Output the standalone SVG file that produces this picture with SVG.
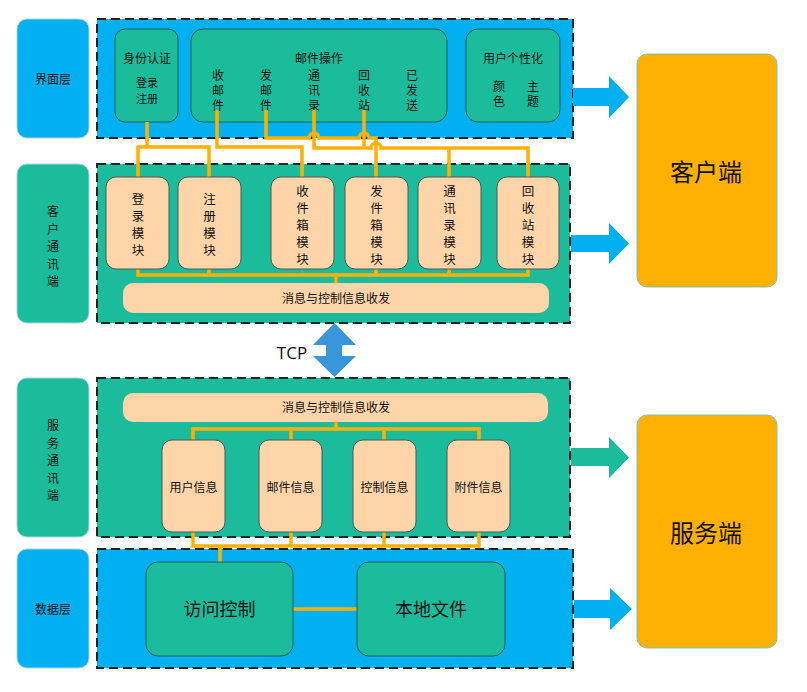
<svg xmlns="http://www.w3.org/2000/svg" width="807" height="692" viewBox="0 0 807 692">
<defs>
<style>
.t{font-family:"Liberation Sans","Noto Sans CJK SC",sans-serif;fill:#111;text-anchor:middle;dominant-baseline:central}
.lab{stroke:#a8d4dc;stroke-width:1}
.blue{fill:#00B0F0}
.teal{fill:#1ABC9C}
.dash{stroke:#222;stroke-width:2;stroke-dasharray:9 5}
.sub{fill:#1ABC9C;stroke:#1E5E5A;stroke-width:1}
.mod{fill:#FED4A8;stroke:#555;stroke-width:1}
.bar{fill:#FED4A8}
.ln{fill:none;stroke:#FFB000;stroke-width:3.5}
.big{fill:#FFB000;stroke:#7fc4b8;stroke-width:1}
</style>
</defs>
<rect width="807" height="692" fill="#fff"/>

<!-- left labels -->
<g id="label-ui"><rect class="blue lab" x="17" y="19" width="72" height="119" rx="10"/><text class="t" x="53" y="80" font-size="12">界面层</text></g>
<g id="label-client"><rect class="teal lab" x="17" y="164" width="72" height="159" rx="10"/>
<text class="t" x="53" y="212" font-size="12">客</text><text class="t" x="53" y="229.5" font-size="12">户</text><text class="t" x="53" y="247" font-size="12">通</text><text class="t" x="53" y="264.5" font-size="12">讯</text><text class="t" x="53" y="282" font-size="12">端</text></g>
<g id="label-server"><rect class="teal lab" x="17" y="378" width="72" height="159" rx="10"/>
<text class="t" x="53" y="426" font-size="12">服</text><text class="t" x="53" y="443.5" font-size="12">务</text><text class="t" x="53" y="461" font-size="12">通</text><text class="t" x="53" y="478.5" font-size="12">讯</text><text class="t" x="53" y="496" font-size="12">端</text></g>
<g id="label-data"><rect class="blue lab" x="17" y="549" width="72" height="119" rx="10"/><text class="t" x="53" y="610" font-size="12">数据层</text></g>

<!-- layer containers -->
<g id="layer-ui"><rect class="blue dash" x="97" y="19" width="476" height="119"/></g>
<g id="layer-client"><rect class="teal dash" x="97" y="164" width="473" height="159"/></g>
<g id="layer-server"><rect class="teal dash" x="97" y="378" width="473" height="159"/></g>
<g id="layer-data"><rect class="blue dash" x="97" y="549" width="476" height="119"/></g>

<!-- UI sub boxes -->
<g id="auth"><rect class="sub" x="115" y="29" width="63" height="93" rx="10"/>
<text class="t" x="147" y="59" font-size="12">身份认证</text>
<text class="t" x="147" y="83" font-size="11">登录</text>
<text class="t" x="147" y="99" font-size="11">注册</text></g>
<g id="mail-ops"><rect class="sub" x="191" y="29" width="256" height="93" rx="12"/>
<text class="t" x="319" y="59" font-size="12">邮件操作</text>
<text class="t" x="218" y="76" font-size="12">收</text><text class="t" x="218" y="91" font-size="12">邮</text><text class="t" x="218" y="106" font-size="12">件</text>
<text class="t" x="266" y="76" font-size="12">发</text><text class="t" x="266" y="91" font-size="12">邮</text><text class="t" x="266" y="106" font-size="12">件</text>
<text class="t" x="314" y="76" font-size="12">通</text><text class="t" x="314" y="91" font-size="12">讯</text><text class="t" x="314" y="106" font-size="12">录</text>
<text class="t" x="364" y="76" font-size="12">回</text><text class="t" x="364" y="91" font-size="12">收</text><text class="t" x="364" y="106" font-size="12">站</text>
<text class="t" x="412" y="76" font-size="12">已</text><text class="t" x="412" y="91" font-size="12">发</text><text class="t" x="412" y="106" font-size="12">送</text></g>
<g id="personalize"><rect class="sub" x="466" y="29" width="94" height="93" rx="12"/>
<text class="t" x="513" y="59" font-size="12">用户个性化</text>
<text class="t" x="499" y="87" font-size="12">颜</text><text class="t" x="499" y="102" font-size="12">色</text>
<text class="t" x="533" y="87" font-size="12">主</text><text class="t" x="533" y="102" font-size="12">题</text></g>

<!-- connectors -->
<g id="connectors">
<path class="ln" d="M147,122 V147 M138,177 V147 H209 V177"/>
<path class="ln" d="M217,110 V147 H302 V177"/>
<path class="ln" d="M266,110 V138 H309 a5,5 0 0 1 10,0 H359 a5,5 0 0 1 10,0 H376 V177"/>
<path class="ln" d="M314,110 V148 H371 a5,5 0 0 1 10,0 H528 V177 M449,148 V177"/>
<path class="ln" d="M364,110 V148"/>
<path d="M302,269 V274 H336" fill="none" stroke="#999" stroke-width="1"/>
<path class="ln" d="M138,269 V275 H528 V269 M209,269 V275 M376,269 V275 M449,269 V275 M336,275 V283"/>
<path class="ln" d="M336,422 V429 M193,440 V429 H479 V440 M291,429 V440 M384,429 V440"/>
<path class="ln" d="M193,532 V546 H479 V532 M291,532 V546 M384,532 V546 M220,546 V562"/>
<path class="ln" d="M293,609 H357"/>
</g>

<!-- client modules -->
<g id="mod-login"><rect class="mod" x="106" y="177" width="63" height="92" rx="10"/>
<text class="t" x="138" y="200" font-size="12.5">登</text><text class="t" x="138" y="217" font-size="12.5">录</text><text class="t" x="138" y="234" font-size="12.5">模</text><text class="t" x="138" y="251" font-size="12.5">块</text></g>
<g id="mod-register"><rect class="mod" x="178" y="177" width="63" height="92" rx="10"/>
<text class="t" x="209.5" y="200" font-size="12.5">注</text><text class="t" x="209.5" y="217" font-size="12.5">册</text><text class="t" x="209.5" y="234" font-size="12.5">模</text><text class="t" x="209.5" y="251" font-size="12.5">块</text></g>
<g id="mod-inbox"><rect class="mod" x="271" y="177" width="63" height="92" rx="10"/>
<text class="t" x="302.5" y="192" font-size="12.5">收</text><text class="t" x="302.5" y="209" font-size="12.5">件</text><text class="t" x="302.5" y="226" font-size="12.5">箱</text><text class="t" x="302.5" y="243" font-size="12.5">模</text><text class="t" x="302.5" y="260" font-size="12.5">块</text></g>
<g id="mod-outbox"><rect class="mod" x="345" y="177" width="63" height="92" rx="10"/>
<text class="t" x="376.5" y="192" font-size="12.5">发</text><text class="t" x="376.5" y="209" font-size="12.5">件</text><text class="t" x="376.5" y="226" font-size="12.5">箱</text><text class="t" x="376.5" y="243" font-size="12.5">模</text><text class="t" x="376.5" y="260" font-size="12.5">块</text></g>
<g id="mod-contacts"><rect class="mod" x="418" y="177" width="63" height="92" rx="10"/>
<text class="t" x="449.5" y="192" font-size="12.5">通</text><text class="t" x="449.5" y="209" font-size="12.5">讯</text><text class="t" x="449.5" y="226" font-size="12.5">录</text><text class="t" x="449.5" y="243" font-size="12.5">模</text><text class="t" x="449.5" y="260" font-size="12.5">块</text></g>
<g id="mod-trash"><rect class="mod" x="497" y="177" width="62" height="92" rx="10"/>
<text class="t" x="528" y="192" font-size="12.5">回</text><text class="t" x="528" y="209" font-size="12.5">收</text><text class="t" x="528" y="226" font-size="12.5">站</text><text class="t" x="528" y="243" font-size="12.5">模</text><text class="t" x="528" y="260" font-size="12.5">块</text></g>
<g id="client-bar"><rect class="bar" x="123" y="283" width="426" height="30" rx="10"/><text class="t" x="336" y="299" font-size="12">消息与控制信息收发</text></g>

<!-- TCP -->
<g id="tcp"><polygon fill="#3A96DB" points="334.5,323 356,345 342,345 342,356 356,356 334.5,377 313,356 326,356 326,345 313,345"/>
<text x="292" y="352" font-family="'Open Sans','Liberation Sans',sans-serif" font-size="17" fill="#111" text-anchor="middle" dominant-baseline="central">TCP</text></g>

<!-- server -->
<g id="server-bar"><rect class="bar" x="123" y="393" width="425" height="29" rx="10"/><text class="t" x="336" y="408" font-size="12">消息与控制信息收发</text></g>
<g id="user-info"><rect class="mod" x="162" y="440" width="63" height="92" rx="10"/><text class="t" x="193.5" y="488" font-size="12">用户信息</text></g>
<g id="mail-info"><rect class="mod" x="259" y="440" width="63" height="92" rx="10"/><text class="t" x="290.5" y="488" font-size="12">邮件信息</text></g>
<g id="ctrl-info"><rect class="mod" x="353" y="440" width="63" height="92" rx="10"/><text class="t" x="384.5" y="488" font-size="12">控制信息</text></g>
<g id="attach-info"><rect class="mod" x="447" y="440" width="63" height="92" rx="10"/><text class="t" x="478.5" y="488" font-size="12">附件信息</text></g>

<!-- data -->
<g id="access"><rect class="sub" x="146" y="562" width="147" height="94" rx="12"/><text class="t" x="219.5" y="610" font-size="18">访问控制</text></g>
<g id="local"><rect class="sub" x="357" y="562" width="148" height="94" rx="12"/><text class="t" x="431" y="610" font-size="18">本地文件</text></g>

<!-- right arrows -->
<g id="arrows">
<polygon class="blue" points="573,88 609,88 609,76 629,97 609,118 609,106 573,106"/>
<polygon class="blue" points="571,235 609,235 609,223 629,243.5 609,264 609,252 571,252"/>
<polygon class="teal" points="571,448 609,448 609,437 629,457.5 609,478 609,466 571,466"/>
<polygon class="blue" points="574,600 610,600 610,588 632,609 610,630 610,618 574,618"/>
</g>

<g id="client"><rect class="big" x="637" y="54" width="140" height="233" rx="10"/><text class="t" x="706" y="172" font-size="24">客户端</text></g>
<g id="server"><rect class="big" x="637" y="415" width="140" height="233" rx="10"/><text class="t" x="706" y="533" font-size="24">服务端</text></g>
</svg>
